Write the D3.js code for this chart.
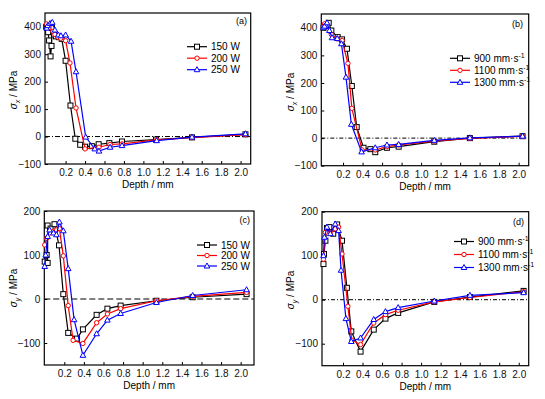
<!DOCTYPE html>
<html>
<head>
<meta charset="utf-8">
<script src="https://cdn.jsdelivr.net/npm/d3@7"></script>
<style>
  body { margin: 0; background: #fff; }
  text { font-family: Arial, "Liberation Sans", sans-serif; }
</style>
</head>
<body>
<div id="chart"></div>
<script>
// depth (mm), stress (MPa)
var a150 = [[0.0,400],[0.01,396],[0.02,380],[0.03,350],[0.045,292],[0.055,330],[0.06,395],[0.08,372],[0.1,365],[0.13,362],[0.16,356],[0.2,276],[0.25,113],[0.3,-8],[0.35,-30],[0.4,-37],[0.47,-35],[0.54,-28],[0.65,-24],[0.78,-18],[1.13,-11],[1.5,-3],[2.05,8]];
var a200 = [[0.005,410],[0.03,397],[0.07,383],[0.09,372],[0.12,362],[0.15,358],[0.2,349],[0.245,268],[0.307,104],[0.4,-45],[0.543,-39],[0.657,-29],[0.78,-27],[1.137,-12],[1.5,-4],[2.05,7]];
var a250 = [[0.005,395],[0.015,404],[0.04,412],[0.063,416],[0.09,388],[0.125,370],[0.152,367],[0.2,370],[0.256,347],[0.307,236],[0.407,-2],[0.5,-45],[0.543,-53],[0.657,-39],[0.78,-33],[1.137,-15],[1.5,-2],[2.05,10]];

var b900 = [[0.0,400],[0.02,406],[0.053,418],[0.08,390],[0.145,366],[0.19,358],[0.24,324],[0.29,189],[0.34,40],[0.41,-35],[0.48,-40],[0.53,-51],[0.65,-35],[0.77,-31],[1.135,-13],[1.5,0],[2.04,7]];
var b1100 = [[0.0,405],[0.01,414],[0.04,410],[0.08,376],[0.14,360],[0.19,354],[0.25,271],[0.29,108],[0.395,-43],[0.53,-43],[0.65,-31],[0.77,-25],[1.135,-11],[1.5,-1],[2.04,6]];
var b1300 = [[0.0,402],[0.01,406],[0.036,418],[0.06,390],[0.087,364],[0.14,361],[0.183,342],[0.23,221],[0.285,50],[0.39,-50],[0.53,-35],[0.65,-25],[0.77,-23],[1.135,-8],[1.5,1],[2.04,7]];

var c150 = [[0.0,85],[0.02,100],[0.03,82],[0.03,167],[0.06,160],[0.1,170],[0.146,122],[0.19,11],[0.24,-77],[0.33,-90],[0.39,-69],[0.53,-36],[0.64,-22],[0.775,-15],[1.14,-4],[1.51,4],[2.06,11]];
var c200 = [[0.0,123],[0.02,138],[0.05,150],[0.09,154],[0.12,157],[0.15,160],[0.19,98],[0.24,-15],[0.29,-94],[0.39,-101],[0.53,-54],[0.64,-34],[0.775,-22],[1.14,-4],[1.51,6],[2.06,15]];
var c250 = [[0.0,74],[0.01,100],[0.03,142],[0.05,157],[0.09,150],[0.12,146],[0.15,175],[0.19,155],[0.24,69],[0.3,-47],[0.39,-128],[0.53,-79],[0.64,-48],[0.775,-33],[1.14,-8],[1.51,8],[2.06,21]];

var d900 = [[0.0,81],[0.005,104],[0.02,134],[0.036,163],[0.06,165],[0.1,150],[0.14,171],[0.19,134],[0.24,27],[0.285,-72],[0.38,-118],[0.515,-68],[0.635,-43],[0.765,-30],[1.135,-5],[1.5,6],[2.05,20]];
var d1100 = [[0.0,92],[0.02,153],[0.07,153],[0.12,161],[0.155,165],[0.19,104],[0.25,-15],[0.29,-92],[0.38,-102],[0.515,-53],[0.635,-34],[0.765,-24],[1.135,-5],[1.5,5],[2.05,18]];
var d1300 = [[0.0,100],[0.01,142],[0.036,165],[0.07,150],[0.12,172],[0.155,157],[0.18,67],[0.23,-43],[0.285,-95],[0.38,-87],[0.515,-45],[0.635,-27],[0.765,-18],[1.135,-3],[1.5,10],[2.05,16]];

var xTicks = [0.2, 0.4, 0.6, 0.8, 1.0, 1.2, 1.4, 1.6, 1.8, 2.0];
var yTicksTop = [-100, 0, 100, 200, 300, 400];
var yTicksBottom = [-100, 0, 100, 200];
var powerLabels = ["150 W", "200 W", "250 W"];
var speedLabels = ["900", "1100", "1300"];
var colors = ["#000000", "#ff0000", "#0000ff"];
var shapes = ["square", "circle", "triangle"];

var W = 545, H = 399;
var svg = d3.select("#chart").append("svg")
    .attr("width", W).attr("height", H);

var panels = [
  { tag: "(a)", box: [45, 13, 250.7, 164], xd: [-0.012, 2.104], yd: [-100, 450], yt: yTicksTop, sub: "x",
    series: [a150, a200, a250], labels: powerLabels, speed: false, leg: [187, 46.7, 11.5], tagPos: [247, 21],
    dash: "5,2,1,2", yTitle: [17, 90] },
  { tag: "(b)", box: [321.3, 14, 528.7, 165.7], xd: [-0.023, 2.103], yd: [-100, 450], yt: yTicksTop, sub: "x",
    series: [b900, b1100, b1300], labels: speedLabels, speed: true, leg: [450, 58.3, 12], tagPos: [523, 23.5],
    dash: "4,2,1,2", yTitle: [294, 92] },
  { tag: "(c)", box: [44.3, 211, 254, 365], xd: [-0.004, 2.136], yd: [-150, 200], yt: yTicksBottom, sub: "y",
    series: [c150, c200, c250], labels: powerLabels, speed: false, leg: [197, 245, 10.5], tagPos: [250, 220],
    dash: "6,3", yTitle: [17, 288] },
  { tag: "(d)", box: [322, 211.7, 528.7, 365.7], xd: [-0.015, 2.102], yd: [-150, 200], yt: yTicksBottom, sub: "y",
    series: [d900, d1100, d1300], labels: speedLabels, speed: true, leg: [454, 241.5, 13], tagPos: [524, 221.5],
    dash: "4,2,1,2", yTitle: [294, 290] }
];

function marker(g, shape, color, x, y) {
  if (shape === "square") {
    g.append("rect").attr("x", x - 2.5).attr("y", y - 2.5).attr("width", 5).attr("height", 5)
      .attr("fill", "#fff").attr("stroke", color).attr("stroke-width", 1);
  } else if (shape === "circle") {
    g.append("circle").attr("cx", x).attr("cy", y).attr("r", 2.2)
      .attr("fill", "#fff").attr("stroke", color).attr("stroke-width", 1);
  } else {
    g.append("path").attr("d", "M" + x + "," + (y - 3) + "L" + (x + 2.8) + "," + (y + 2) + "L" + (x - 2.8) + "," + (y + 2) + "Z")
      .attr("fill", "#fff").attr("stroke", color).attr("stroke-width", 1);
  }
}

panels.forEach(function (p) {
  var x0 = p.box[0], y0 = p.box[1], x1 = p.box[2], y1 = p.box[3];
  var x = d3.scaleLinear().domain(p.xd).range([x0, x1]);
  var y = d3.scaleLinear().domain(p.yd).range([y1, y0]);
  var g = svg.append("g");

  // zero line
  g.append("line").attr("x1", x0).attr("x2", x1).attr("y1", y(0)).attr("y2", y(0))
    .attr("stroke", "#000").attr("stroke-width", 1).attr("stroke-dasharray", p.dash);

  // axes, ticks inward
  var xa = g.append("g").attr("transform", "translate(0," + y1 + ")")
    .call(d3.axisBottom(x).tickValues(xTicks).tickSize(-3).tickPadding(5).tickFormat(d3.format(".1f")));
  var ya = g.append("g").attr("transform", "translate(" + x0 + ",0)")
    .call(d3.axisLeft(y).tickValues(p.yt).tickSize(-3).tickPadding(4));
  [xa, ya].forEach(function (a) {
    a.select(".domain").remove();
    a.selectAll("text").attr("font-size", "10px").attr("fill", "#111")
      .style("font-family", "Arial, 'Liberation Sans', sans-serif");
    a.selectAll("line").attr("stroke", "#000");
  });

  g.append("rect").attr("x", x0).attr("y", y0).attr("width", x1 - x0).attr("height", y1 - y0)
    .attr("fill", "none").attr("stroke", "#000").attr("stroke-width", 1.2);

  // series
  var line = d3.line().x(function (d) { return x(d[0]); }).y(function (d) { return y(d[1]); });
  p.series.forEach(function (s, i) {
    g.append("path").datum(s).attr("d", line).attr("fill", "none")
      .attr("stroke", colors[i]).attr("stroke-width", 1.2);
    s.forEach(function (d) { marker(g, shapes[i], colors[i], x(d[0]), y(d[1])); });
  });

  // legend
  p.labels.forEach(function (lab, i) {
    var ly = p.leg[1] + i * p.leg[2];
    g.append("line").attr("x1", p.leg[0]).attr("x2", p.leg[0] + 20).attr("y1", ly).attr("y2", ly)
      .attr("stroke", colors[i]).attr("stroke-width", 1.2);
    marker(g, shapes[i], colors[i], p.leg[0] + 10, ly);
    var t = g.append("text").attr("x", p.leg[0] + 24).attr("y", ly + 3.6).attr("font-size", "10px");
    if (p.speed) {
      t.append("tspan").text(lab + " mm\u00b7s");
      t.append("tspan").attr("dy", -4).attr("font-size", "7px").text("-1");
    } else {
      t.text(lab);
    }
  });

  // panel tag
  g.append("text").attr("x", p.tagPos[0]).attr("y", p.tagPos[1] + 3).attr("text-anchor", "end")
    .attr("font-size", "9px").text(p.tag);

  // axis titles
  g.append("text").attr("x", (x0 + x1) / 2).attr("y", y1 + 24).attr("text-anchor", "middle")
    .attr("font-size", "10px").text("Depth / mm");
  var yt = g.append("text").attr("transform", "translate(" + p.yTitle[0] + "," + p.yTitle[1] + ") rotate(-90)")
    .attr("text-anchor", "middle").attr("font-size", "10px");
  yt.append("tspan").attr("font-style", "italic").text("\u03c3");
  yt.append("tspan").attr("font-style", "italic").attr("font-size", "7px").attr("dy", 2.5).text(p.sub);
  yt.append("tspan").attr("dy", -2.5).text(" / MPa");
});
</script>
</body>
</html>
